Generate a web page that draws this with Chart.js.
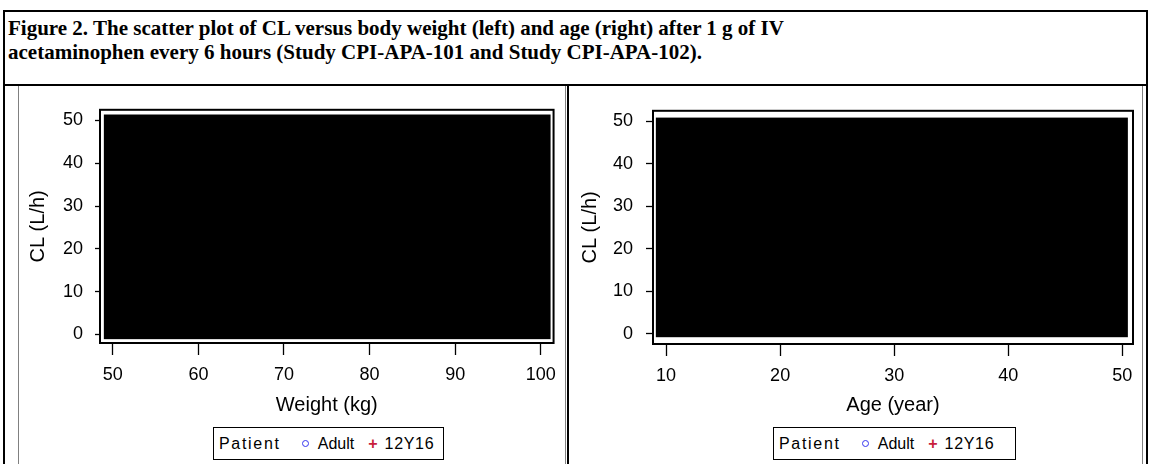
<!DOCTYPE html>
<html>
<head>
<meta charset="utf-8">
<script src="https://cdn.jsdelivr.net/npm/chart.js@4.4.1/dist/chart.umd.min.js"></script>
<style>
  body { margin: 0; background: #fff; width: 1153px; height: 464px; overflow: hidden; position: relative; }
  .line { position: absolute; background: #000; }
  .thin { position: absolute; background: #808080; width: 1px; }
  .title { position: absolute; left: 8px; top: 16px; font: bold 21px "Liberation Serif", "Times New Roman", serif; line-height: 24px; color: #000; white-space: nowrap; }
  .panel { position: absolute; top: 87px; }
  .legend { position: absolute; top: 427px; height: 33px; box-sizing: border-box; border: 1.5px solid #000;
            display: flex; align-items: center; font: 16px "Liberation Sans", Arial, sans-serif; color: #000; padding-left: 5px; }
  .legend .grp { letter-spacing: 1.7px; }
  .legend .adult { display: inline-block; width: 5px; height: 5px; border: 1.8px solid #3434f0; border-radius: 50%; margin-left: 21px; }
  .legend .lbl { margin-left: 9px; }
  .legend .plus { color: #c81e3c; margin-left: 14px; font-weight: bold; }
  .legend .kid { margin-left: 7px; letter-spacing: 0.7px; }
</style>
</head>
<body>
<div class="line" style="left:3px; top:10px; width:1145px; height:2px;"></div>
<div class="line" style="left:3px; top:10px; width:2px; height:460px;"></div>
<div class="line" style="left:1146px; top:10px; width:2px; height:460px;"></div>
<div class="line" style="left:3px; top:84px; width:1145px; height:2px;"></div>
<div class="line" style="left:567px; top:84px; width:2px; height:400px;"></div>
<div class="thin" style="left:18px; top:86px; height:400px;"></div>
<div class="thin" style="left:565px; top:86px; height:400px;"></div>
<div class="thin" style="left:1142px; top:86px; height:400px;"></div>

<div class="title">Figure 2. The scatter plot of CL versus body weight (left) and age (right) after 1 g of IV<br>acetaminophen every 6 hours (Study CPI-APA-101 and Study CPI-APA-102).</div>

<div class="panel" style="left:19px;"><canvas id="weightChart" width="546" height="333"></canvas></div>
<div class="panel" style="left:570px;"><canvas id="ageChart" width="572" height="333"></canvas></div>

<div class="legend" style="left:213px; width:231px;">
  <span class="grp">Patient</span><span class="adult"></span><span class="lbl">Adult</span><span class="plus">+</span><span class="kid">12Y16</span>
</div>
<div class="legend" style="left:773px; width:243px;">
  <span class="grp">Patient</span><span class="adult"></span><span class="lbl">Adult</span><span class="plus">+</span><span class="kid">12Y16</span>
</div>

<script>
// tick labels
const weightTicks = [50, 60, 70, 80, 90, 100];
const ageTicks = [10, 20, 30, 40, 50];
const clTicks = [0, 10, 20, 30, 40, 50];

// axis ranges (data units)
const weightRange = [48.5, 101.5];
const ageRange = [8.85, 50.95];
const clRangeWeight = [-2, 52.5];
const clRangeAge = [-2.4, 52.5];

// extent of the filled black wall in the source, data units
const weightWall = [48.95, 101.15];
const clWallWeight = [-1.1, 51.4];
const ageWall = [9.1, 50.5];
const clWallAge = [-0.8, 50.9];

// series: the individual points cannot be read, they sit under the black fill
const seriesNames = ["Adult", "12Y16"];
const adultPoints = [];
const kidPoints = [];

Chart.defaults.font.family = "'Liberation Sans', Arial, sans-serif";
Chart.defaults.color = "#000";

const wallPlugin = {
    id: "wall",
    beforeDatasetsDraw(chart, args, opts) {
        const { ctx, chartArea, scales } = chart;
        const x0 = scales.x.getPixelForValue(opts.x[0]);
        const x1 = scales.x.getPixelForValue(opts.x[1]);
        const y0 = scales.y.getPixelForValue(opts.y[1]);
        const y1 = scales.y.getPixelForValue(opts.y[0]);
        ctx.save();
        ctx.fillStyle = "#000";
        ctx.fillRect(x0, y0, x1 - x0, y1 - y0);
        ctx.strokeStyle = "#000";
        ctx.lineWidth = 2;
        ctx.strokeRect(chartArea.left, chartArea.top, chartArea.width, chartArea.height);
        ctx.restore();
    }
};

function makeChart(id, cfg) {
    const ctx = document.getElementById(id).getContext("2d");
    return new Chart(ctx, {
        type: "scatter",
        plugins: [wallPlugin],
        data: {
            datasets: [
                { label: seriesNames[0], data: adultPoints, pointStyle: "circle", borderColor: "#3434f0", backgroundColor: "transparent", pointRadius: 3 },
                { label: seriesNames[1], data: kidPoints, pointStyle: "cross", borderColor: "#c81e3c", pointRadius: 4 }
            ]
        },
        options: {
            responsive: false,
            animation: false,
            layout: { padding: { top: 9, right: 9, left: 0, bottom: 0 } },
            plugins: {
                legend: { display: false },
                tooltip: { enabled: false },
                wall: { x: cfg.wallX, y: cfg.wallY }
            },
            scales: {
                x: {
                    type: "linear",
                    min: cfg.xRange[0],
                    max: cfg.xRange[1],
                    afterBuildTicks: (s) => { s.ticks = cfg.xTicks.map((v) => ({ value: v })); },
                    afterFit: (s) => { s.height = cfg.xHeight; },
                    grid: { drawOnChartArea: false, drawTicks: true, tickLength: 12, tickColor: "#000", tickWidth: 1.3 },
                    border: { display: false },
                    ticks: { padding: 9, font: { size: 18 }, color: "#000" },
                    title: { display: true, text: cfg.xTitle, font: { size: 20 }, color: "#000", padding: { top: 0, bottom: 3 } }
                },
                y: {
                    type: "linear",
                    min: cfg.yRange[0],
                    max: cfg.yRange[1],
                    afterBuildTicks: (s) => { s.ticks = clTicks.map((v) => ({ value: v })); },
                    afterFit: (s) => { s.width = cfg.yWidth; },
                    grid: { drawOnChartArea: false, drawTicks: true, tickLength: cfg.yTickLen, tickColor: "#000", tickWidth: 1.3 },
                    border: { display: false },
                    ticks: { padding: cfg.yPad, font: { size: 18 }, color: "#000" },
                    title: { display: true, text: "CL (L/h)", font: { size: 20 }, color: "#000", padding: { top: cfg.yTitlePad, bottom: 0 } }
                }
            }
        }
    });
}

makeChart("weightChart", {
    xTicks: weightTicks, xRange: weightRange, yRange: clRangeWeight,
    wallX: weightWall, wallY: clWallWeight, xTitle: "Weight (kg)",
    xHeight: 77, yWidth: 81, yTickLen: 5, yPad: 12, yTitlePad: 7
});

makeChart("ageChart", {
    xTicks: ageTicks, xRange: ageRange, yRange: clRangeAge,
    wallX: ageWall, wallY: clWallAge, xTitle: "Age (year)",
    xHeight: 76, yWidth: 83, yTickLen: 7, yPad: 13, yTitlePad: 8
});
</script>
</body>
</html>
